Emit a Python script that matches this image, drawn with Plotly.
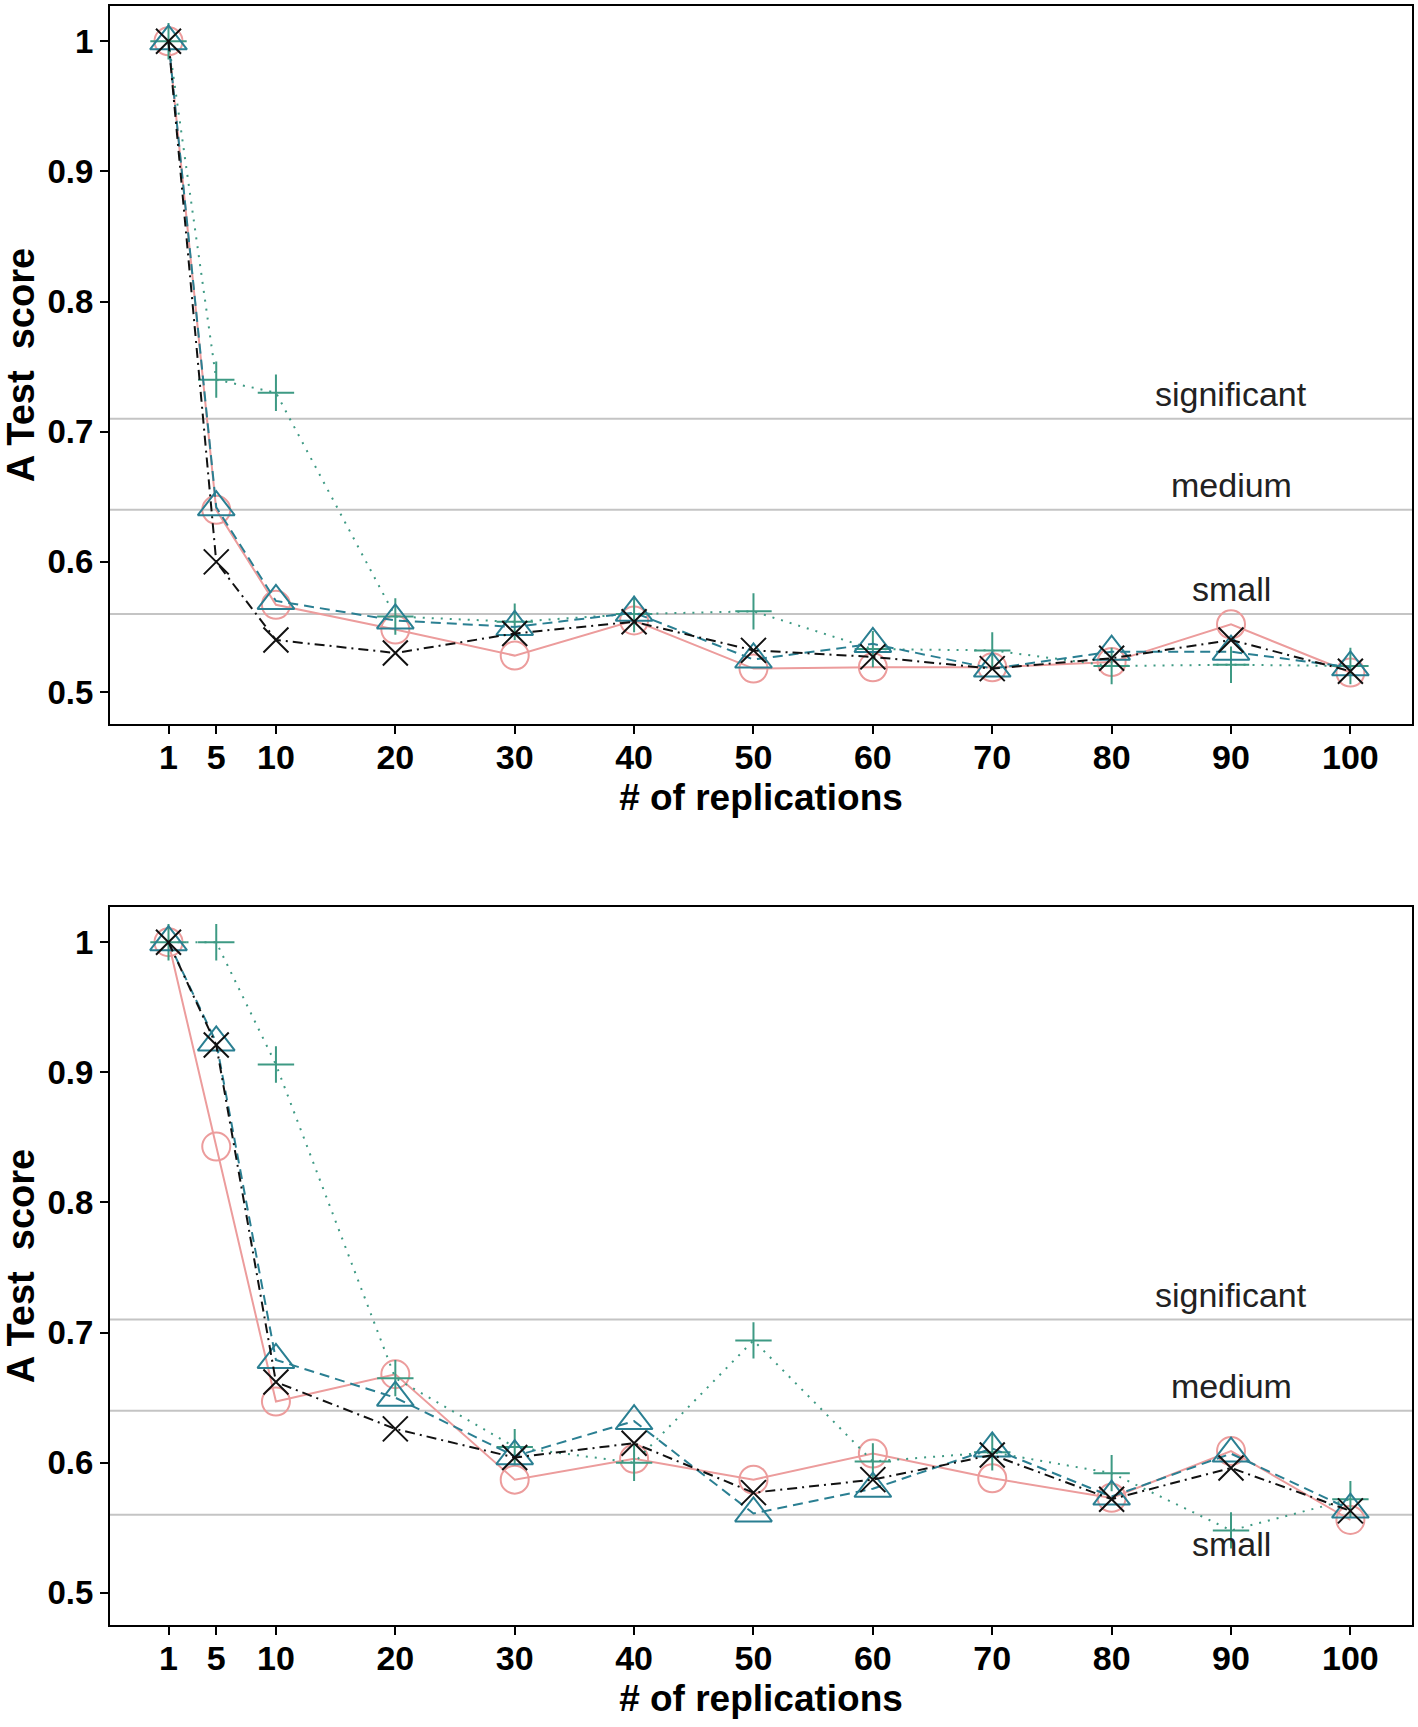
import plotly.graph_objects as go

# ---------------- data ----------------
replications = [1, 5, 10, 20, 30, 40, 50, 60, 70, 80, 90, 100]
tick_labels = ["1", "5", "10", "20", "30", "40", "50", "60", "70", "80", "90", "100"]

# top panel
circle_top = [1.0, 0.640, 0.567, 0.548, 0.528, 0.555, 0.518, 0.519, 0.519, 0.523, 0.552, 0.515]
plus_top = [1.0, 0.740, 0.730, 0.558, 0.554, 0.560, 0.562, 0.533, 0.532, 0.520, 0.521, 0.520]
triangle_top = [1.0, 0.642, 0.570, 0.555, 0.550, 0.561, 0.525, 0.537, 0.518, 0.531, 0.531, 0.519]
cross_top = [1.0, 0.600, 0.540, 0.530, 0.545, 0.554, 0.532, 0.527, 0.518, 0.526, 0.540, 0.516]

# bottom panel
circle_bot = [1.0, 0.843, 0.647, 0.668, 0.587, 0.603, 0.587, 0.607, 0.588, 0.573, 0.609, 0.556]
plus_bot = [1.0, 1.0, 0.906, 0.665, 0.612, 0.600, 0.694, 0.601, 0.608, 0.592, 0.548, 0.572]
triangle_bot = [1.0, 0.923, 0.679, 0.650, 0.605, 0.632, 0.561, 0.580, 0.611, 0.574, 0.607, 0.564]
cross_bot = [1.0, 0.921, 0.662, 0.626, 0.604, 0.615, 0.577, 0.587, 0.606, 0.572, 0.596, 0.563]

thresholds = [0.71, 0.64, 0.56]
threshold_labels = ["significant", "medium", "small"]
y_ticks = [0.5, 0.6, 0.7, 0.8, 0.9, 1.0]
y_tick_labels = ["0.5", "0.6", "0.7", "0.8", "0.9", "1"]

# ---------------- styles ----------------
PINK = "#EC9C9C"
GREEN = "#3E9A84"
TEAL = "#2A7F92"
BLACK = "#111111"
FONT = "Liberation Sans, Arial, sans-serif"

series_style = [
    dict(color=PINK, dash="solid", symbol="circle-open", size=28),
    dict(color=GREEN, dash="2px,7px", symbol="cross-thin-open", size=26),
    dict(color=TEAL, dash="10px,6px", symbol="triangle-up-open", size=32),
    dict(color=BLACK, dash="10px,5px,2px,5px", symbol="x-thin-open", size=25),
]

fig = go.Figure()

panels = [
    ("x", "y", [circle_top, plus_top, triangle_top, cross_top]),
    ("x2", "y2", [circle_bot, plus_bot, triangle_bot, cross_bot]),
]

for xa, ya, data in panels:
    for vals, st in zip(data, series_style):
        fig.add_trace(go.Scatter(
            x=replications, y=vals, xaxis=xa, yaxis=ya,
            mode="lines+markers", showlegend=False,
            line=dict(color=st["color"], width=2, dash=st["dash"]),
            marker=dict(symbol=st["symbol"], size=st["size"],
                        color=st["color"], line=dict(color=st["color"], width=2)),
        ))

X_RANGE = [-3.9, 105.16]
Y_RANGE = [0.4753, 1.0271]

xaxis_common = dict(
    range=X_RANGE, tickmode="array", tickvals=replications, ticktext=tick_labels,
    showline=True, mirror=True, linecolor="black", linewidth=2,
    ticks="outside", ticklen=8, tickwidth=1.5, tickcolor="black",
    showgrid=False, zeroline=False, ticklabelstandoff=-6,
    tickfont=dict(family=FONT, size=34, color="black", weight="bold"),
    title=dict(text="# of replications", standoff=9,
               font=dict(family=FONT, size=37, color="black", weight="bold")),
)
yaxis_common = dict(
    range=Y_RANGE, tickmode="array", tickvals=y_ticks, ticktext=y_tick_labels,
    showline=True, mirror=True, linecolor="black", linewidth=2,
    ticks="outside", ticklen=8, tickwidth=1.5, tickcolor="black",
    showgrid=False, zeroline=False,
    tickfont=dict(family=FONT, size=33, color="black", weight="bold"),
    title=dict(text="A Test \u00a0score", standoff=10,
               font=dict(family=FONT, size=38, color="black", weight="bold")),
)
top_gap_axis = dict(
    range=X_RANGE, tickmode="array", tickvals=replications, showticklabels=False,
    showline=False, ticks="outside", ticklen=4, tickwidth=4, tickcolor="white",
    showgrid=False, zeroline=False, side="top",
)

fig.update_layout(
    width=1418, height=1727,
    margin=dict(l=110, r=4, t=5, b=102),
    plot_bgcolor="white", paper_bgcolor="white",
    xaxis=dict(**xaxis_common, anchor="y", domain=[0, 1]),
    yaxis=dict(**yaxis_common, anchor="x", domain=[0.5564, 1.0]),
    xaxis2=dict(**xaxis_common, anchor="y2", domain=[0, 1]),
    yaxis2=dict(**yaxis_common, anchor="x2", domain=[0.0, 0.4435]),
    xaxis3=dict(**top_gap_axis, overlaying="x", anchor="y"),
    xaxis4=dict(**top_gap_axis, overlaying="x2", anchor="y2"),
)

shapes = []
annotations = []
for ya in ["y", "y2"]:
    for th, lab in zip(thresholds, threshold_labels):
        shapes.append(dict(type="line", xref="x domain" if ya == "y" else "x2 domain",
                           x0=0, x1=1, yref=ya, y0=th, y1=th, layer="below",
                           line=dict(color="#C4C4C4", width=2)))
        below = (ya == "y2" and lab == "small")
        annotations.append(dict(
            x=90, y=th, xref="x" if ya == "y" else "x2", yref=ya,
            text=lab, showarrow=False,
            yanchor="top" if below else "bottom",
            yshift=-8 if below else 4,
            font=dict(family=FONT, size=34, color="#222222"),
        ))
fig.update_layout(shapes=shapes, annotations=annotations)

fig.write_html("out.html", config={"displayModeBar": False},
               post_script="document.body.style.margin='0';")
